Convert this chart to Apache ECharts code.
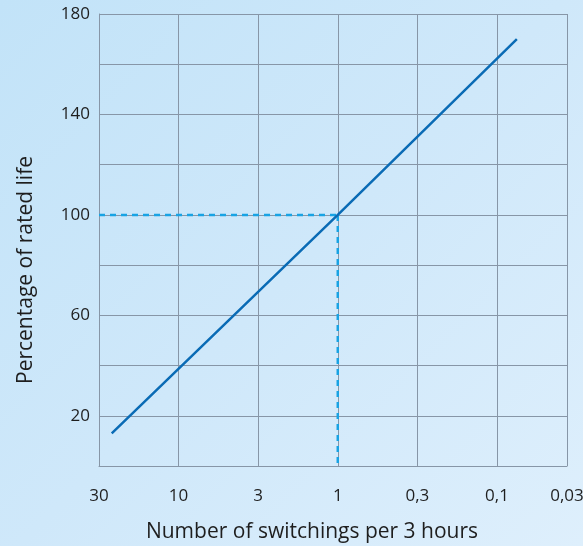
<!DOCTYPE html>
<html>
<head>
<meta charset="utf-8">
<script src="https://cdn.jsdelivr.net/npm/echarts@6/dist/echarts.min.js"></script>
<style>
html,body{margin:0;padding:0;width:583px;height:546px;overflow:hidden;}
#c{width:583px;height:546px;background:linear-gradient(135deg,#c2e3f8 0%,#cfe8fa 50%,#deeffc 100%);}
</style>
</head>
<body>
<div id="c"></div>
<script>
// x tick labels (switchings per 3 hours, log-spaced positions 0..6)
var xTickLabels = ['30', '10', '3', '1', '0,3', '0,1', '0,03'];
// y tick values
var yTicks = [20, 60, 100, 140, 180];
// life curve: [x position on label scale, percentage]
var lifeX = [0.16, 3, 5.25];
var lifeY = [13, 100, 170];
// reference point (1 switching per 3 hours -> 100 %)
var refX = 3;
var refY = 100;

var font = 'Open Sans';
var chart = echarts.init(document.getElementById('c'), null, {renderer: 'canvas'});
var lifeData = lifeX.map(function (x, i) { return [x, lifeY[i]]; });

chart.setOption({
  backgroundColor: 'transparent',
  animation: false,
  grid: {left: 99, right: 16, top: 14, bottom: 80, containLabel: false, outerBoundsMode: 'none'},
  xAxis: {
    type: 'value', min: 0, max: 5.88, interval: 1,
    name: 'Number of switchings per 3 hours',
    nameLocation: 'middle', nameGap: 56,
    nameTextStyle: {color: '#1e1e1e', fontSize: 21, fontFamily: font, padding: [0, 42, 0, 0]},
    axisLine: {show: true, lineStyle: {color: '#8796a7', width: 1}},
    axisTick: {show: false},
    axisLabel: {
      color: '#1e1e1e', fontSize: 17, fontFamily: font, margin: 22,
      showMaxLabel: true, showMinLabel: true,
      formatter: function (v) { return xTickLabels[Math.round(v)]; }
    },
    splitLine: {show: true, lineStyle: {color: '#8796a7', width: 1}}
  },
  yAxis: {
    type: 'value', min: 0, max: 180, interval: 20,
    name: 'Percentage of rated life',
    nameLocation: 'middle', nameGap: 62,
    nameTextStyle: {color: '#1e1e1e', fontSize: 21, fontFamily: font, padding: [0, 60, 0, 0]},
    axisLine: {show: true, lineStyle: {color: '#8796a7', width: 1}},
    axisTick: {show: false},
    axisLabel: {
      color: '#1e1e1e', fontSize: 17, fontFamily: font, margin: 9,
      formatter: function (v) { return yTicks.indexOf(v) >= 0 ? String(v) : ''; }
    },
    splitLine: {show: true, lineStyle: {color: '#8796a7', width: 1}}
  },
  series: [
    {
      type: 'line',
      data: [[0, refY], [refX, refY]],
      symbol: 'none',
      lineStyle: {color: '#18a3e4', width: 2.5, type: [6, 5]},
      silent: true, z: 3
    },
    {
      type: 'line',
      data: [[refX, refY], [refX, 0]],
      symbol: 'none',
      lineStyle: {color: '#18a3e4', width: 2.5, type: [6, 5]},
      silent: true, z: 3
    },
    {
      type: 'line',
      data: lifeData,
      symbol: 'none',
      lineStyle: {color: '#0a6bb5', width: 2.5},
      silent: true, z: 4
    }
  ]
});
</script>
</body>
</html>
